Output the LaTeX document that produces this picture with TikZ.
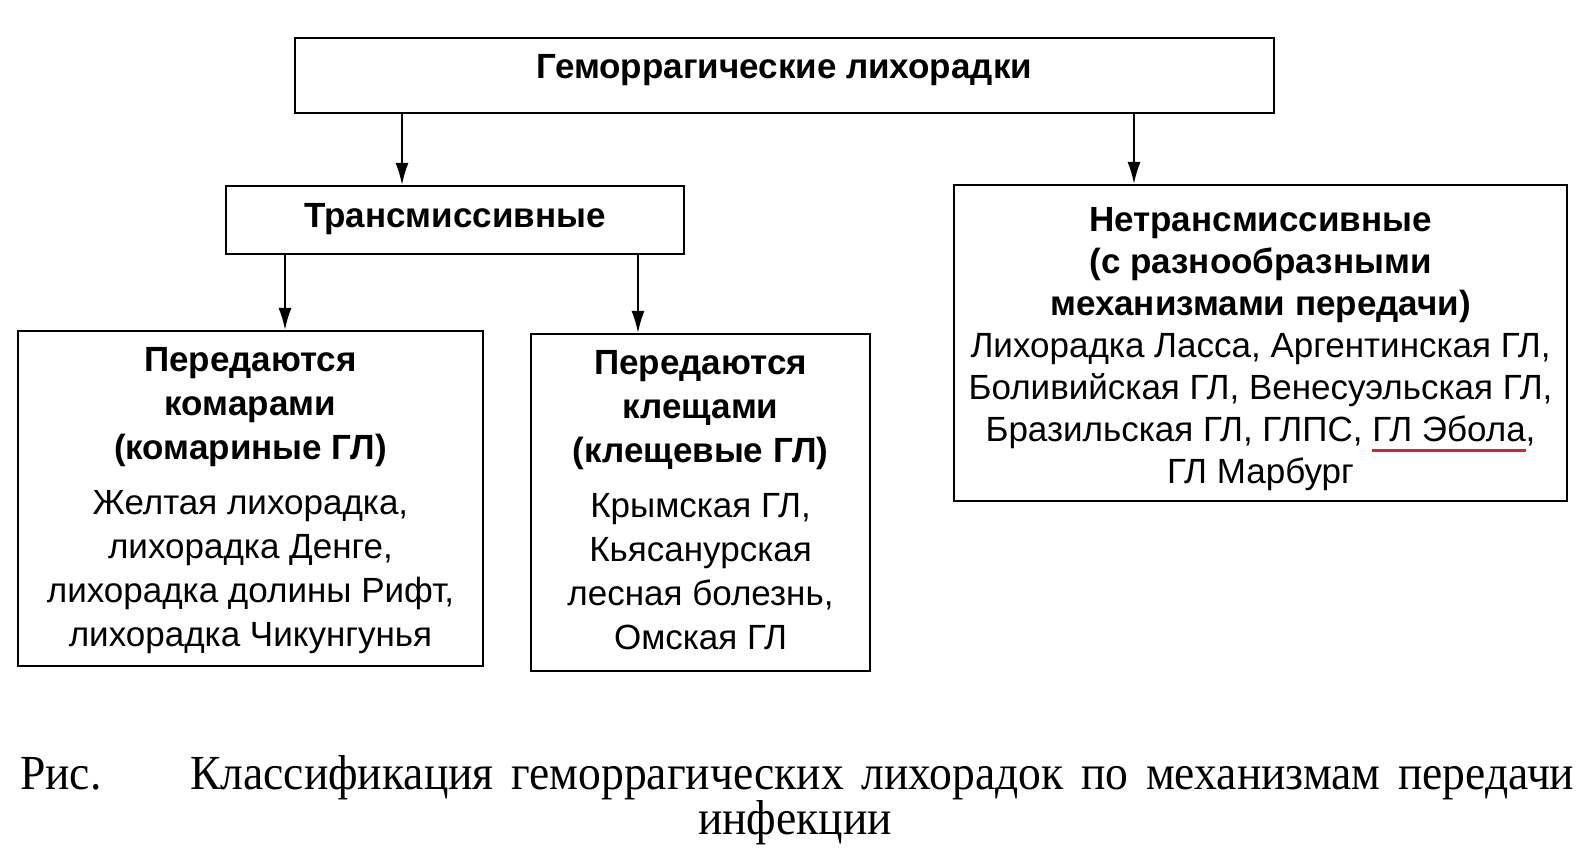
\documentclass[tikz,border=0pt]{standalone}
\usepackage{fontspec}
\usetikzlibrary{arrows.meta}
\setmainfont{Liberation Sans}
\newfontfamily\capf[FakeStretch=0.93]{Liberation Serif}
\definecolor{ulred}{RGB}{215,35,45}
\newsavebox\ulbox
\newcommand\redul[1]{\sbox\ulbox{#1}\rlap{\textcolor{ulred}{\rule[-11pt]{\wd\ulbox}{3pt}}}\usebox\ulbox}
\begin{document}
\begin{tikzpicture}[x=1pt,y=-1pt,
  box/.style={draw, line width=2.2pt, inner sep=0pt},
  arr/.style={line width=1.8pt, -{Latex[length=22pt,width=13pt]}},
  txt/.style={inner sep=0pt, align=center, font=\fontsize{35}{42}\selectfont},
  txtb/.style={inner sep=0pt, align=center, font=\fontsize{35}{44}\selectfont},
  captxt/.style={inner sep=0pt, font=\capf\fontsize{49}{56}\selectfont}]
\fill[white] (0,0) rectangle (1595,854);
\path[use as bounding box] (0,0) rectangle (1595,854);

\node[box, minimum width=979pt, minimum height=75pt] (top) at (784.5,75.5) {};
\node[box, minimum width=458pt, minimum height=68pt] (trans) at (455,220) {};
\node[box, minimum width=613pt, minimum height=316pt] (net) at (1260.5,343) {};
\node[box, minimum width=465pt, minimum height=335pt] (kom) at (250.5,498.5) {};
\node[box, minimum width=339pt, minimum height=337pt] (kle) at (700.5,502.5) {};

\node[txt, font=\bfseries\fontsize{35}{42}\selectfont] (toptxt) at ([yshift=5pt]top.center) {Геморрагические лихорадки};
\node[txt, font=\bfseries\fontsize{35}{42}\selectfont] (transtxt) at ([yshift=1pt]trans.center) {Трансмиссивные};
\node[txt] (nettxt) at ([yshift=-6pt]net.center) {{\bfseries Нетрансмиссивные}\\{\bfseries (с разнообразными}\\{\bfseries механизмами передачи)}\\Лихорадка Ласса, Аргентинская ГЛ,\\Боливийская ГЛ, Венесуэльская ГЛ,\\Бразильская ГЛ, ГЛПС, \redul{ГЛ Эбола},\\ГЛ Марбург};
\node[txtb] (komtxt) at ([yshift=-2pt]kom.center) {{\bfseries Передаются}\\{\bfseries комарами}\\{\bfseries (комариные ГЛ)}\\[11pt]Желтая лихорадка,\\лихорадка Денге,\\лихорадка долины Рифт,\\лихорадка Чикунгунья};
\node[txtb] (kletxt) at ([yshift=2pt]kle.center) {{\bfseries Передаются}\\{\bfseries клещами}\\{\bfseries (клещевые ГЛ)}\\[11pt]Крымская ГЛ,\\Кьясанурская\\лесная болезнь,\\Омская ГЛ};

\coordinate (x1) at (402,0);
\coordinate (x2) at (1134,0);
\coordinate (x3) at (285,0);
\coordinate (x4) at (638,0);
\draw[arr] (x1 |- top.south) -- (x1 |- trans.north);
\draw[arr] (x2 |- top.south) -- (x2 |- net.north);
\draw[arr] (x3 |- trans.south) -- (x3 |- kom.north);
\draw[arr] (x4 |- trans.south) -- (x4 |- kle.north);

\node[captxt, anchor=base west] (ris) at (20,789) {Рис.};
\node[captxt, anchor=base west] (cap1) at (190,789) {\makebox[1384pt][s]{Классификация геморрагических лихорадок по механизмам передачи}};
\node[captxt, anchor=base] (cap2) at (795,834) {инфекции};
\end{tikzpicture}
\end{document}
